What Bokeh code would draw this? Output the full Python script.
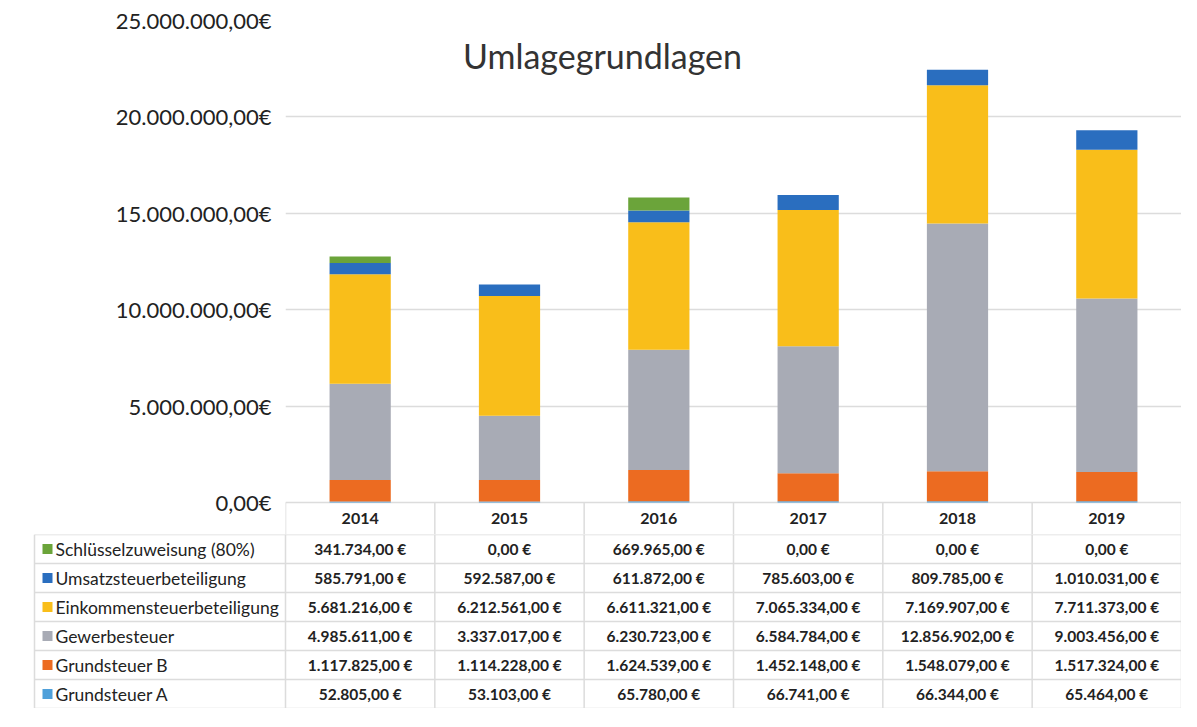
from bokeh.plotting import figure
from bokeh.models import Range1d, FixedTicker, Label, ColumnDataSource
from bokeh.core.properties import value
from bokeh.embed import file_html
from bokeh.resources import INLINE

# ---------------- data ----------------
years = ["2014", "2015", "2016", "2017", "2018", "2019"]
grundsteuer_a = [52805, 53103, 65780, 66741, 66344, 65464]
grundsteuer_b = [1117825, 1114228, 1624539, 1452148, 1548079, 1517324]
gewerbesteuer = [4985611, 3337017, 6230723, 6584784, 12856902, 9003456]
einkommensteuer = [5681216, 6212561, 6611321, 7065334, 7169907, 7711373]
umsatzsteuer = [585791, 592587, 611872, 785603, 809785, 1010031]
schluesselzuweisung = [341734, 0, 669965, 0, 0, 0]

series_names = ["Grundsteuer A", "Grundsteuer B", "Gewerbesteuer",
                "Einkommensteuerbeteiligung", "Umsatzsteuerbeteiligung",
                "Schlüsselzuweisung (80%)"]
series_values = [grundsteuer_a, grundsteuer_b, gewerbesteuer,
                 einkommensteuer, umsatzsteuer, schluesselzuweisung]
series_colors = ["#4FA0DA", "#EC6B21", "#A8ABB5", "#F9BE1A", "#2A6EBF", "#6BA43A"]
y_ticks = [0, 5000000, 10000000, 15000000, 20000000, 25000000]
title_text = "Umlagegrundlagen"

FONT = "Lato"
TEXT = "#222222"
GRID = "#DCDCDC"


def de_num(v):
    s = f"{v:,.2f}"
    return s.replace(",", "X").replace(".", ",").replace("X", ".")


# ---------------- layout constants ----------------
W = 1181
LEFT = 285            # frame left border inside top figure (page x 293)
TOP = 20
PX_MAX = 482          # px from 0 to 25M
HEADER = 32           # header row height
ROW = 29
n = len(years)
col_w = (W - LEFT) / n
y_max = y_ticks[-1]
y_start = -HEADER / PX_MAX * y_max


def xpage(px):
    """x data coordinate for page pixel px."""
    return -0.5 + (px - (8 + LEFT)) / col_w


# ---------------- top chart ----------------
src = {"x": list(range(n))}
keys = []
for i, vals in enumerate(series_values):
    k = f"s{i}"
    keys.append(k)
    src[k] = vals
source = ColumnDataSource(src)

p = figure(width=W, height=TOP + PX_MAX + HEADER, output_backend="svg",
           toolbar_location=None, x_range=Range1d(-0.5, n - 0.5),
           y_range=Range1d(y_start, y_max),
           min_border_left=LEFT, min_border_right=0, min_border_top=TOP,
           min_border_bottom=0)
p.vbar_stack(keys, x="x", width=0.41, color=series_colors, source=source,
             line_color=None)

p.yaxis.ticker = FixedTicker(ticks=y_ticks)
p.yaxis.major_label_overrides = {float(t): de_num(t) + "€" for t in y_ticks}
p.yaxis.axis_line_color = None
p.yaxis.major_tick_line_color = None
p.yaxis.minor_tick_line_color = None
p.yaxis.major_label_standoff = 8
p.yaxis.major_label_text_font = FONT
p.yaxis.major_label_text_font_size = "22px"
p.yaxis.major_label_text_color = TEXT
p.xaxis.visible = False
p.xgrid.grid_line_color = None
p.ygrid.grid_line_color = GRID
p.ygrid.grid_line_width = 1.5
p.outline_line_color = None

# header row (years) of the data table
hdr_y = y_start / 2
p.text(x=list(range(n)), y=[hdr_y] * n, text=years, text_align="center",
       text_baseline="middle", text_font=value(FONT),
       text_font_size="16px", text_font_style="bold", text_color=TEXT)
bx = [i - 0.5 for i in range(n + 1)]
p.segment(x0=bx, y0=[y_start] * (n + 1), x1=bx, y1=[0] * (n + 1),
          line_color=GRID, line_width=1.5)

title_x = xpage(610)
title_y = (510 - 63) / PX_MAX * y_max
p.add_layout(Label(x=title_x, y=title_y, text=title_text, text_align="center",
                   text_baseline="middle", text_font=FONT,
                   text_font_size="34px", text_color="#333333"))

# ---------------- data table ----------------
rows = list(range(len(series_names)))[::-1]  # top row = last series
x_left = xpage(8)
label_left = xpage(42)
t = figure(width=W, height=ROW * len(rows), output_backend="svg",
           toolbar_location=None, x_range=Range1d(x_left, n - 0.5),
           y_range=Range1d(0, len(rows)), min_border=0)
t.axis.visible = False
t.grid.visible = False
t.outline_line_color = None

nr = len(rows)
hy = list(range(nr + 1))
t.segment(x0=[label_left] * (nr + 1), y0=hy, x1=[n - 0.5] * (nr + 1), y1=hy,
          line_color=GRID, line_width=1.5)
vx = [label_left] + bx
t.segment(x0=vx, y0=[0] * len(vx), x1=vx, y1=[nr] * len(vx),
          line_color=GRID, line_width=1.5)

lab_y, lab_t, sq_c = [], [], []
cx, cy, ct = [], [], []
for r, si in enumerate(rows):
    yy = nr - 0.5 - r
    lab_y.append(yy)
    lab_t.append(series_names[si])
    sq_c.append(series_colors[si])
    for j in range(n):
        cx.append(j)
        cy.append(yy)
        ct.append(de_num(series_values[si][j]) + " €")

t.scatter(x=[xpage(55)] * nr, y=lab_y, marker="square", size=10,
          color=sq_c, line_color=None)
t.text(x=[xpage(63)] * nr, y=lab_y, text=lab_t, text_align="left",
       text_baseline="middle", text_font=value(FONT), text_font_size="17.5px",
       text_color=TEXT)
t.text(x=cx, y=cy, text=ct, text_align="center", text_baseline="middle",
       text_font=value(FONT), text_font_size="15.5px", text_font_style="bold",
       text_color=TEXT)

open("out.html", "w").write(file_html([p, t], INLINE))
